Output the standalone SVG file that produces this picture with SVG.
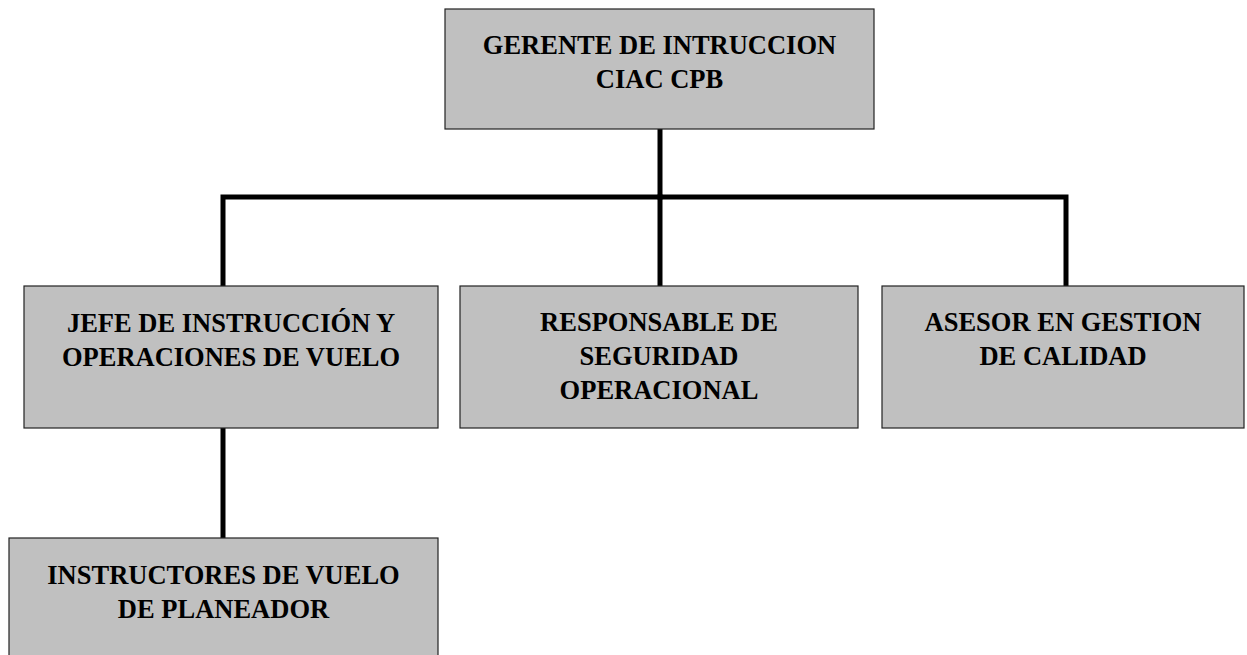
<svg xmlns="http://www.w3.org/2000/svg" width="1247" height="655" viewBox="0 0 1247 655">
<style>
.box{fill:#c0c0c0;stroke:#222;stroke-width:1.2}
.t{font-family:"Liberation Serif","Times New Roman",serif;font-weight:bold;font-size:26.5px;fill:#000;text-anchor:middle}
.c{fill:none;stroke:#000;stroke-width:5;stroke-linecap:square;stroke-linejoin:miter}
</style>
<rect width="1247" height="655" fill="#fff"/>
<g id="connectors">
<path class="c" d="M660,130 V197"/>
<path class="c" d="M223,284 V197 H1066 V284"/>
<path class="c" d="M660,197 V284"/>
<path class="c" d="M223,429 V537"/>
</g>
<g id="gerente">
<rect class="box" x="445" y="9" width="429" height="120"/>
<text class="t" x="659.5" y="54">GERENTE DE INTRUCCION</text>
<text class="t" x="659.5" y="88">CIAC CPB</text>
</g>
<g id="jefe">
<rect class="box" x="24" y="286" width="414" height="142"/>
<text class="t" x="231" y="332">JEFE DE INSTRUCCIÓN Y</text>
<text class="t" x="231" y="366">OPERACIONES DE VUELO</text>
</g>
<g id="responsable">
<rect class="box" x="460" y="286" width="398" height="142"/>
<text class="t" x="659" y="331">RESPONSABLE DE</text>
<text class="t" x="659" y="365">SEGURIDAD</text>
<text class="t" x="659" y="399">OPERACIONAL</text>
</g>
<g id="asesor">
<rect class="box" x="882" y="286" width="362" height="142"/>
<text class="t" x="1063" y="331">ASESOR EN GESTION</text>
<text class="t" x="1063" y="365">DE CALIDAD</text>
</g>
<g id="instructores">
<rect class="box" x="9" y="538" width="429" height="125"/>
<text class="t" x="223.5" y="584">INSTRUCTORES DE VUELO</text>
<text class="t" x="223.5" y="618">DE PLANEADOR</text>
</g>
</svg>
